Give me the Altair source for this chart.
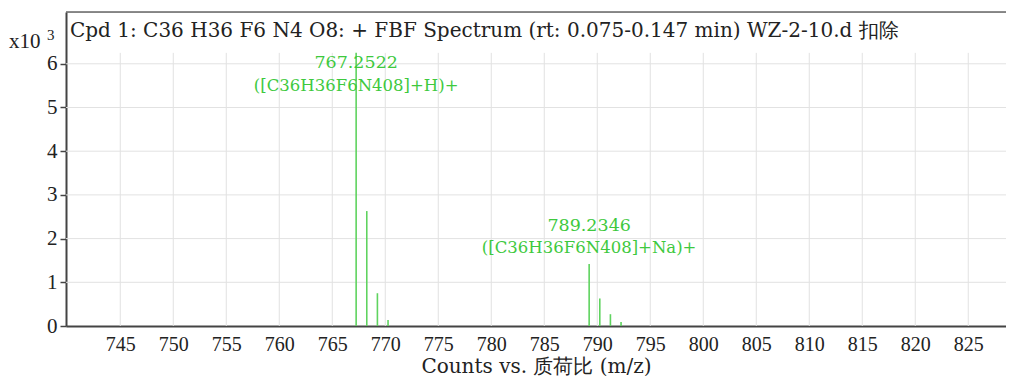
import altair as alt
import pandas as pd

# ---- data ----
peak_mz = [767.2522, 768.255, 769.258, 770.262, 789.2346, 790.238, 791.241, 792.244]
peak_counts_k = [6.25, 2.63, 0.75, 0.14, 1.42, 0.63, 0.27, 0.09]  # x10^3 counts

label_mz = [767.2522, 789.2346]
label_mass = ["767.2522", "789.2346"]
label_ion = ["([C36H36F6N408]+H)+", "([C36H36F6N408]+Na)+"]
label_mass_y = [6.02, 2.29]
label_ion_y = [5.49, 1.78]

x_ticks = [745, 750, 755, 760, 765, 770, 775, 780, 785, 790, 795, 800, 805, 810, 815, 820, 825]
y_ticks = [0, 1, 2, 3, 4, 5, 6]
grid_top = 6.25

X_DOMAIN = [739.88, 828.56]
Y_DOMAIN = [0, 7.185]

title_text = "Cpd 1: C36 H36 F6 N4 O8: + FBF Spectrum (rt: 0.075-0.147 min) WZ-2-10.d  扣除"

W, H = 940, 314
GREEN_LINE = "#5fd35f"
GREEN_TEXT = "#3ec93e"
GRID = "#e2e2e2"
SERIF = "Liberation Serif"
TFONT = "DejaVu Serif"

peaks = pd.DataFrame({"mz": peak_mz, "c": peak_counts_k, "base": [0] * len(peak_mz)})
labels = pd.DataFrame({"mz": label_mz, "mass": label_mass, "ion": label_ion,
                       "my": label_mass_y, "iy": label_ion_y})
gx = pd.DataFrame({"x": x_ticks, "y0": [0] * len(x_ticks), "y1": [grid_top] * len(x_ticks)})
gy = pd.DataFrame({"y": [v for v in y_ticks if v > 0]})

xs = alt.Scale(domain=X_DOMAIN, nice=False, zero=False)
ys = alt.Scale(domain=Y_DOMAIN, nice=False, zero=False)

x_axis = alt.Axis(values=x_ticks, grid=False, ticks=False, labelPadding=8,
                  labelFont=SERIF, labelFontSize=20, labelColor="#222",
                  domainColor="#444", domainWidth=2,
                  title="Counts vs. 质荷比 (m/z)", titleFont=TFONT, titleFontSize=20,
                  titleFontWeight="normal", titleColor="#222", titlePadding=2)
y_axis = alt.Axis(values=y_ticks, grid=False, tickSize=6, tickColor="#444", tickWidth=1.5,
                  labelPadding=3, labelFont=SERIF, labelFontSize=21, labelColor="#222",
                  domainColor="#444", domainWidth=2, title=None)

vgrid = alt.Chart(gx).mark_rule(color=GRID, strokeWidth=1).encode(
    x=alt.X("x:Q", scale=xs, axis=x_axis),
    y=alt.Y("y0:Q", scale=ys, axis=y_axis),
    y2="y1:Q",
)
hgrid = alt.Chart(gy).mark_rule(color=GRID, strokeWidth=1).encode(
    y=alt.Y("y:Q", scale=ys)
)

sticks = alt.Chart(peaks).mark_rule(color=GREEN_LINE, strokeWidth=1.6).encode(
    x=alt.X("mz:Q", scale=xs),
    y=alt.Y("c:Q", scale=ys),
    y2="base:Q",
)

mass_text = alt.Chart(labels).mark_text(font=TFONT, fontSize=17.5, color=GREEN_TEXT,
                                        baseline="middle", align="center").encode(
    x=alt.X("mz:Q", scale=xs), y=alt.Y("my:Q", scale=ys), text="mass:N")
ion_text = alt.Chart(labels).mark_text(font=TFONT, fontSize=16.5, color=GREEN_TEXT,
                                       baseline="middle", align="center").encode(
    x=alt.X("mz:Q", scale=xs), y=alt.Y("iy:Q", scale=ys), text="ion:N")

frame_top = alt.Chart(pd.DataFrame({"a": [0]})).mark_rule(color="#666", strokeWidth=1.5).encode(
    x=alt.value(0), x2=alt.value(W), y=alt.value(0))

title_mark = alt.Chart(pd.DataFrame({"t": [title_text]})).mark_text(
    font=TFONT, fontSize=20, color="#222", align="left", baseline="alphabetic").encode(
    x=alt.value(4), y=alt.value(25), text="t:N")

x10_mark = alt.Chart(pd.DataFrame({"t": ["x10"]})).mark_text(
    font=SERIF, fontSize=21, color="#222", align="left", baseline="alphabetic").encode(
    x=alt.value(-57), y=alt.value(36), text="t:N")
exp_mark = alt.Chart(pd.DataFrame({"t": ["3"]})).mark_text(
    font=SERIF, fontSize=15, color="#222", align="left", baseline="alphabetic").encode(
    x=alt.value(-19), y=alt.value(28), text="t:N")

chart = alt.layer(vgrid, hgrid, sticks, mass_text, ion_text, frame_top,
                  title_mark, x10_mark, exp_mark).properties(
    width=W, height=H,
    autosize=alt.AutoSizeParams(type="none"),
    padding={"left": 58, "top": 4, "right": 0, "bottom": 50},
).configure_view(stroke=None).configure(background="white")

chart.save("out.html", embed_options={"renderer": "svg", "actions": False})
